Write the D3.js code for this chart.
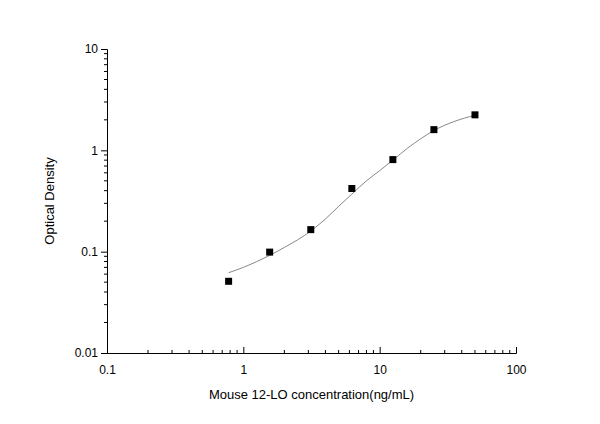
<!DOCTYPE html>
<html>
<head>
<meta charset="utf-8">
<script src="https://cdn.jsdelivr.net/npm/d3@7"></script>
<style>
  body { margin: 0; background: #fff; }
  text { font-family: Arial, "Liberation Sans", sans-serif; }
</style>
</head>
<body>
<svg id="chart" width="600" height="424"></svg>
<script>
const conc = [0.78, 1.56, 3.125, 6.25, 12.5, 25, 50];
const od = [0.051, 0.099, 0.165, 0.42, 0.81, 1.6, 2.24];
// fitted curve
const fitX = [0.78, 1, 1.56, 2, 3.125, 4, 5, 6.25, 8, 10, 12.5, 16, 20, 25, 35, 50];
const fitY = [0.062, 0.07, 0.092, 0.11, 0.16, 0.21, 0.28, 0.37, 0.5, 0.63, 0.8, 1.05, 1.3, 1.57, 1.92, 2.22];
const xTicks = [0.1, 1, 10, 100];
const yTicks = [0.01, 0.1, 1, 10];

const svg = d3.select('#chart');
const m = {left: 107, right: 84, top: 49, bottom: 71};
const w = 600 - m.left - m.right, h = 424 - m.top - m.bottom;
const g = svg.append('g').attr('transform', `translate(${m.left},${m.top})`);

const x = d3.scaleLog().domain([0.1, 100]).range([0, w]);
const y = d3.scaleLog().domain([0.01, 10]).range([h, 0]);

const minors = (dom) => {
  const out = [];
  for (let d = dom[0]; d < dom[1] * 0.99; d *= 10)
    for (let k = 2; k <= 9; k++) out.push(d * k);
  return out;
};

// x axis, ticks pointing up into the plot
const xa = g.append('g').attr('transform', `translate(0,${h})`);
xa.call(d3.axisBottom(x).tickValues(xTicks).tickFormat(d => d).tickSize(-6).tickPadding(12));
xa.selectAll('.tick').data(minors([0.1, 100])).enter();
minors([0.1, 100]).forEach(v => xa.append('line').attr('x1', x(v)).attr('x2', x(v)).attr('y1', 0).attr('y2', -3).attr('stroke', '#000'));

const ya = g.append('g');
ya.call(d3.axisLeft(y).tickValues(yTicks).tickFormat(d => d).tickSize(6).tickPadding(3));
minors([0.01, 10]).forEach(v => ya.append('line').attr('y1', y(v)).attr('y2', y(v)).attr('x1', 0).attr('x2', -3).attr('stroke', '#000'));

[xa, ya].forEach(a => { a.selectAll('text').attr('font-size', 12).attr('fill', '#000'); a.select('.domain').attr('stroke', '#000'); });

const line = d3.line().x((d, i) => x(d)).y((d, i) => y(fitY[i])).curve(d3.curveMonotoneX);
g.append('path').attr('d', line(fitX)).attr('fill', 'none').attr('stroke', '#888').attr('stroke-width', 1);

g.selectAll('rect.pt').data(conc).enter().append('rect')
  .attr('x', d => x(d) - 3.5).attr('y', (d, i) => y(od[i]) - 3.5)
  .attr('width', 7).attr('height', 7).attr('fill', '#000');

svg.append('text').attr('x', m.left + w / 2).attr('y', 399).attr('text-anchor', 'middle')
  .attr('font-size', 13).text('Mouse 12-LO concentration(ng/mL)');
svg.append('text').attr('transform', `translate(54,${m.top + h / 2}) rotate(-90)`)
  .attr('text-anchor', 'middle').attr('font-size', 13).text('Optical Density');
</script>
</body>
</html>
